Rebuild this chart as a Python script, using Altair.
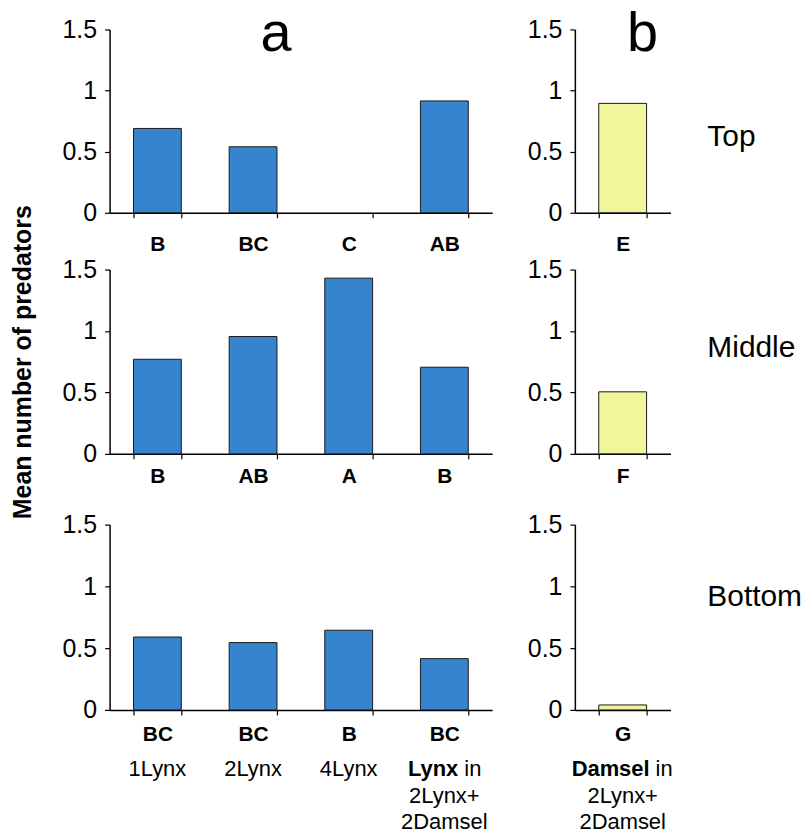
import altair as alt
import pandas as pd

# ---------------- data ----------------
lynx_treatments = ["1Lynx", "2Lynx", "4Lynx", "Lynx in 2Lynx+2Damsel"]
damsel_treatments = ["Damsel in 2Lynx+2Damsel"]

top_lynx = [0.69, 0.54, 0.0, 0.915]
middle_lynx = [0.77, 0.955, 1.43, 0.705]
bottom_lynx = [0.59, 0.545, 0.645, 0.415]

top_damsel = [0.895]
middle_damsel = [0.505]
bottom_damsel = [0.04]

top_letters = ["B", "BC", "C", "AB"]
middle_letters = ["B", "AB", "A", "B"]
bottom_letters = ["BC", "BC", "B", "BC"]
top_damsel_letter = ["E"]
middle_damsel_letter = ["F"]
bottom_damsel_letter = ["G"]

row_names = ["Top", "Middle", "Bottom"]
y_ticks = [0, 0.5, 1, 1.5]

BLUE = "#3684CD"
YELLOW = "#F2F59C"
FONT = "Liberation Sans"

W_A, W_B = 384, 96


def label_expr(cats, letters):
    pairs = ",".join("'%s':'%s'" % (c, l) for c, l in zip(cats, letters))
    return "{" + pairs + "}[datum.value]"


def y_axis(show_title):
    kw = dict(
        values=y_ticks, format="~g", grid=False,
        labelFont=FONT, labelFontSize=25, labelColor="black", labelPadding=8,
        tickSize=5, tickColor="black", tickWidth=1.2,
        domainColor="black", domainWidth=1.5,
    )
    if show_title:
        kw.update(title="Mean number of predators", titleFont=FONT, titleFontSize=25,
                  titleFontWeight="bold", titleColor="black", titlePadding=27)
    else:
        kw.update(title=None)
    return alt.Axis(**kw)


def x_axis(cats, letters, pad, offset):
    return alt.Axis(
        title=None, labelAngle=0, labelExpr=label_expr(cats, letters),
        labelFont=FONT, labelFontSize=21, labelFontWeight="bold", labelColor="black",
        labelPadding=pad, tickBand="extent", tickSize=5, tickColor="black", tickWidth=1.2,
        domainColor="black", domainWidth=1.5, offset=offset,
    )


def panel(cats, values, letters, color, width, height, axis_len, pad, yax, extra_layers):
    # axis_len: pixel length of the value axis; the plot group may be taller
    df = pd.DataFrame({"treatment": cats, "mean": values})
    xenc = alt.X("treatment:N", sort=cats,
                 scale=alt.Scale(paddingInner=0.5, paddingOuter=0.25),
                 axis=x_axis(cats, letters, pad, axis_len - height))
    bars = alt.Chart(df).mark_bar(color=color, stroke="#1a1a1a", strokeWidth=1).encode(
        x=xenc,
        y=alt.Y("mean:Q",
                scale=alt.Scale(domain=[0, 1.5], nice=False, zero=True, range=[axis_len, 0]),
                axis=yax),
        strokeOpacity=alt.condition("datum.mean > 0", alt.value(1), alt.value(0)),
    )
    return alt.layer(bars, *extra_layers).properties(width=width, height=height)


def text_layer(text, x, y, size, weight="normal", align="center"):
    return alt.Chart(pd.DataFrame({"t": [text]})).mark_text(
        font=FONT, fontSize=size, fontWeight=weight, align=align,
        baseline="alphabetic", color="black",
    ).encode(text="t:N", x=alt.value(x), y=alt.value(y))


def sub_lines(cats, entries, axis_len):
    # entries: (treatment, text, line_index, weight, align, dx)
    layers = []
    for (cat, txt, line, weight, align, dx) in entries:
        df = pd.DataFrame({"treatment": [cat], "t": [txt]})
        layers.append(
            alt.Chart(df).mark_text(
                font=FONT, fontSize=22, fontWeight=weight, align=align,
                baseline="alphabetic", color="black", dx=dx,
            ).encode(
                x=alt.X("treatment:N", sort=cats),
                y=alt.value(axis_len + 66 + 27 * line),
                text="t:N",
            )
        )
    return layers


# axis lengths and group heights of the three rows
L1, L2, L3 = 184, 185, 186
G1, G2, G3 = 184, 199, 186

# ---------------- panels ----------------
a_top = panel(lynx_treatments, top_lynx, top_letters, BLUE, W_A, G1, L1, 16, y_axis(False),
              [text_layer("a", 167, 22, 56)])
b_top = panel(damsel_treatments, top_damsel, top_damsel_letter, YELLOW, W_B, G1, L1, 16, y_axis(False),
              [text_layer("b", 68, 22, 56),
               text_layer(row_names[0], 133, 117, 30, align="left")])

a_mid = panel(lynx_treatments, middle_lynx, middle_letters, BLUE, W_A, G2, L2, 7, y_axis(True), [])
b_mid = panel(damsel_treatments, middle_damsel, middle_damsel_letter, YELLOW, W_B, G2, L2, 7, y_axis(False),
              [text_layer(row_names[1], 133, 88, 30, align="left")])

lynx_sub = [
    (lynx_treatments[0], "1Lynx", 0, "normal", "center", 0),
    (lynx_treatments[1], "2Lynx", 0, "normal", "center", 0),
    (lynx_treatments[2], "4Lynx", 0, "normal", "center", 0),
    (lynx_treatments[3], "Lynx", 0, "bold", "right", 14),
    (lynx_treatments[3], "in", 0, "normal", "left", 20),
    (lynx_treatments[3], "2Lynx+", 1, "normal", "center", 0),
    (lynx_treatments[3], "2Damsel", 2, "normal", "center", 0),
]
damsel_sub = [
    (damsel_treatments[0], "Damsel", 0, "bold", "right", 27),
    (damsel_treatments[0], "in", 0, "normal", "left", 33),
    (damsel_treatments[0], "2Lynx+", 1, "normal", "center", 0),
    (damsel_treatments[0], "2Damsel", 2, "normal", "center", 0),
]

a_bot = panel(lynx_treatments, bottom_lynx, bottom_letters, BLUE, W_A, G3, L3, 9, y_axis(False),
              sub_lines(lynx_treatments, lynx_sub, L3))
b_bot = panel(damsel_treatments, bottom_damsel, bottom_damsel_letter, YELLOW, W_B, G3, L3, 9, y_axis(False),
              sub_lines(damsel_treatments, damsel_sub, L3)
              + [text_layer(row_names[2], 133, 82, 30, align="left")])

chart = alt.concat(
    a_top, b_top, a_mid, b_mid, a_bot, b_bot,
    columns=2, bounds="flush", spacing={"row": 57, "column": 83},
).properties(
    padding={"left": 10, "top": 5, "right": 0, "bottom": 0},
    background="white",
).configure_view(stroke=None)

chart.save("out.html", embed_options={"renderer": "svg", "actions": False})
